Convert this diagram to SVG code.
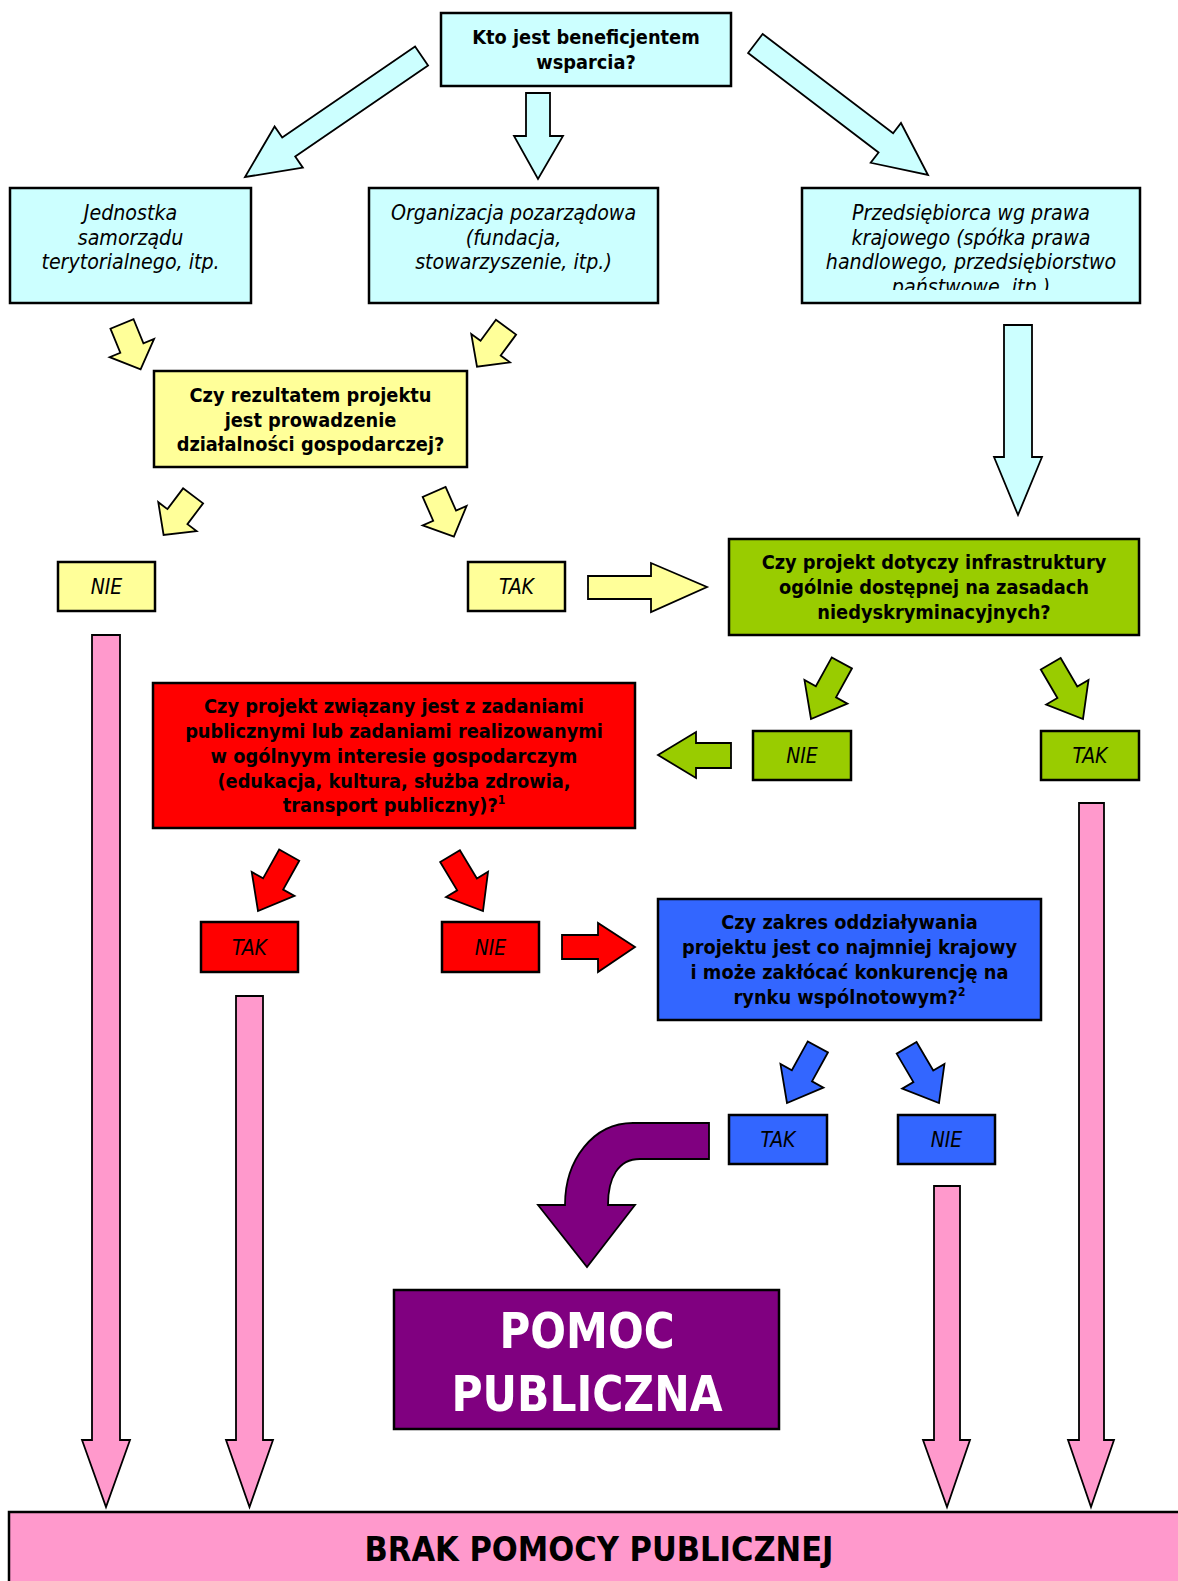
<svg xmlns="http://www.w3.org/2000/svg" xmlns:xlink="http://www.w3.org/1999/xlink" width="1178" height="1581" viewBox="0 0 1178 1581">
<style>
.box{stroke:#000;stroke-width:2.5}
.arr{stroke:#000;stroke-width:1.8;stroke-linejoin:miter}
.t{font-family:"DejaVu Sans Condensed","DejaVu Sans",sans-serif;text-anchor:middle;fill:#000}
.q{font-weight:bold;font-size:19.8px}
.i{font-style:italic;font-size:21.2px}
.l{font-style:italic;font-size:21px}
.cy{fill:#CCFFFF}.ye{fill:#FFFF99}.gr{fill:#99CC00}.rd{fill:#FF0000}.bl{fill:#3366FF}.pu{fill:#800080}.pk{fill:#FF99CC}
</style>
<defs>
<polygon id="ay" points="-49,-12.5 -23,-12.5 -23,-24 0,0 -23,24 -23,12.5 -49,12.5"/>
<polygon id="as" points="-64,-11.5 -31,-11.5 -31,-24.5 0,0 -31,24.5 -31,11.5 -64,11.5"/>
<clipPath id="clipR"><rect x="802" y="188" width="338" height="102"/></clipPath>
</defs>
<rect width="1178" height="1581" fill="#fff"/>

<g id="connectors">
<polygon class="arr cy" transform="translate(245,177) rotate(145.6)" points="-214,-11.5 -53,-11.5 -53,-25 0,0 -53,25 -53,11.5 -214,11.5"/>
<polygon class="arr cy" points="526,93 550,93 550,136 563,136 538,179 514,136 526,136"/>
<polygon class="arr cy" transform="translate(928,175) rotate(37.3)" points="-217,-12 -53,-12 -53,-25 0,0 -53,25 -53,12 -217,12"/>
<polygon class="arr cy" points="1004,325 1032,325 1032,457 1042,457 1018,515 994,457 1004,457"/>
<use href="#ay" class="arr ye" transform="translate(140.6,369.3) rotate(67.7)"/>
<use href="#ay" class="arr ye" transform="translate(477,366.7) rotate(126.3)"/>
<use href="#ay" class="arr ye" transform="translate(163.6,535) rotate(127)"/>
<use href="#ay" class="arr ye" transform="translate(453.9,536.7) rotate(66.2)"/>
<polygon class="arr ye" points="588,576 651,576 651,563 707,587 651,612 651,599 588,599"/>
<use href="#as" class="arr gr" transform="translate(811,719) rotate(118.8)"/>
<use href="#as" class="arr gr" transform="translate(1083,719) rotate(59.7)"/>
<polygon class="arr gr" points="731,743 696,743 696,732 658,755 696,778 696,768 731,768"/>
<use href="#as" class="arr rd" transform="translate(258,911) rotate(119.2)"/>
<use href="#as" class="arr rd" transform="translate(483,911) rotate(59)"/>
<polygon class="arr rd" points="562,935 598,935 598,923 635,947 598,972 598,959 562,959"/>
<use href="#as" class="arr bl" transform="translate(787,1103) rotate(118.8)"/>
<use href="#as" class="arr bl" transform="translate(939,1103) rotate(59.6)"/>
<path class="arr pu" d="M709,1123 L633,1123 C593,1123 565,1160 565,1205 L538,1205 L587,1267 L635,1205 L608,1205 C608,1178 618,1159 640,1159 L709,1159 Z"/>
<polygon class="arr pk" points="92,635 120,635 120,1440 130,1440 106,1507 82,1440 92,1440"/>
<polygon class="arr pk" points="236,996 263,996 263,1440 273,1440 249.5,1507 226,1440 236,1440"/>
<polygon class="arr pk" points="934,1186 960,1186 960,1440 970,1440 947,1507 923,1440 934,1440"/>
<polygon class="arr pk" points="1079,803 1104,803 1104,1440 1114,1440 1091,1507 1068,1440 1079,1440"/>
</g>

<g id="n-start">
<rect class="box cy" x="441" y="13" width="290" height="73"/>
<text class="t q" x="586" y="44">Kto jest beneficjentem</text>
<text class="t q" x="586" y="68.5">wsparcia?</text>
</g>
<g id="n-jst">
<rect class="box cy" x="10" y="188" width="241" height="115"/>
<text class="t i" x="130.5" y="220">Jednostka</text>
<text class="t i" x="130.5" y="244.5">samorządu</text>
<text class="t i" x="130.5" y="269">terytorialnego, itp.</text>
</g>
<g id="n-ngo">
<rect class="box cy" x="369" y="188" width="289" height="115"/>
<text class="t i" x="513.5" y="220">Organizacja pozarządowa</text>
<text class="t i" x="513.5" y="244.5">(fundacja,</text>
<text class="t i" x="513.5" y="269">stowarzyszenie, itp.)</text>
</g>
<g id="n-firm">
<rect class="box cy" x="802" y="188" width="338" height="115"/>
<g clip-path="url(#clipR)">
<text class="t i" x="971" y="220">Przedsiębiorca wg prawa</text>
<text class="t i" x="971" y="244.5">krajowego (spółka prawa</text>
<text class="t i" x="971" y="269">handlowego, przedsiębiorstwo</text>
<text class="t i" x="971" y="293.5">państwowe, itp.)</text>
</g>
</g>
<g id="n-q1">
<rect class="box ye" x="154" y="371" width="313" height="96"/>
<text class="t q" x="310.5" y="402">Czy rezultatem projektu</text>
<text class="t q" x="310.5" y="426.5">jest prowadzenie</text>
<text class="t q" x="310.5" y="451">działalności gospodarczej?</text>
</g>
<g id="n-q1-nie">
<rect class="box ye" x="58" y="562" width="97" height="49"/>
<text class="t l" x="106.5" y="594">NIE</text>
</g>
<g id="n-q1-tak">
<rect class="box ye" x="468" y="562" width="97" height="49"/>
<text class="t l" x="516.5" y="594">TAK</text>
</g>
<g id="n-q2">
<rect class="box gr" x="729" y="539" width="410" height="96"/>
<text class="t q" x="934" y="569">Czy projekt dotyczy infrastruktury</text>
<text class="t q" x="934" y="594">ogólnie dostępnej na zasadach</text>
<text class="t q" x="934" y="619">niedyskryminacyjnych?</text>
</g>
<g id="n-q2-nie">
<rect class="box gr" x="753" y="731" width="98" height="49"/>
<text class="t l" x="802" y="763">NIE</text>
</g>
<g id="n-q2-tak">
<rect class="box gr" x="1041" y="731" width="98" height="49"/>
<text class="t l" x="1090" y="763">TAK</text>
</g>
<g id="n-q3">
<rect class="box rd" x="153" y="683" width="482" height="145"/>
<text class="t q" x="394" y="713">Czy projekt związany jest z zadaniami</text>
<text class="t q" x="394" y="738">publicznymi lub zadaniami realizowanymi</text>
<text class="t q" x="394" y="763">w ogólnyym interesie gospodarczym</text>
<text class="t q" x="394" y="788">(edukacja, kultura, służba zdrowia,</text>
<text class="t q" x="394" y="812">transport publiczny)?<tspan font-size="12" dy="-8">1</tspan></text>
</g>
<g id="n-q3-tak">
<rect class="box rd" x="201" y="922" width="97" height="50"/>
<text class="t l" x="249.5" y="954.5">TAK</text>
</g>
<g id="n-q3-nie">
<rect class="box rd" x="442" y="922" width="97" height="50"/>
<text class="t l" x="490.5" y="954.5">NIE</text>
</g>
<g id="n-q4">
<rect class="box bl" x="658" y="899" width="383" height="121"/>
<text class="t q" x="849.5" y="929">Czy zakres oddziaływania</text>
<text class="t q" x="849.5" y="954">projektu jest co najmniej krajowy</text>
<text class="t q" x="849.5" y="979">i może zakłócać konkurencję na</text>
<text class="t q" x="849.5" y="1004">rynku wspólnotowym?<tspan font-size="12" dy="-8">2</tspan></text>
</g>
<g id="n-q4-tak">
<rect class="box bl" x="729" y="1115" width="98" height="49"/>
<text class="t l" x="778" y="1147">TAK</text>
</g>
<g id="n-q4-nie">
<rect class="box bl" x="898" y="1115" width="97" height="49"/>
<text class="t l" x="946.5" y="1147">NIE</text>
</g>
<g id="n-pomoc">
<rect class="box pu" x="394" y="1290" width="385" height="139"/>
<text class="t" x="587" y="1348" font-size="50" font-weight="bold" style="fill:#fff" textLength="175" lengthAdjust="spacingAndGlyphs">POMOC</text>
<text class="t" x="587" y="1411" font-size="50" font-weight="bold" style="fill:#fff" textLength="271" lengthAdjust="spacingAndGlyphs">PUBLICZNA</text>
</g>
<g id="n-brak">
<rect class="box pk" x="9" y="1512" width="1190" height="100"/>
<text class="t" x="599" y="1561" font-size="34" font-weight="bold">BRAK POMOCY PUBLICZNEJ</text>
</g>
</svg>
